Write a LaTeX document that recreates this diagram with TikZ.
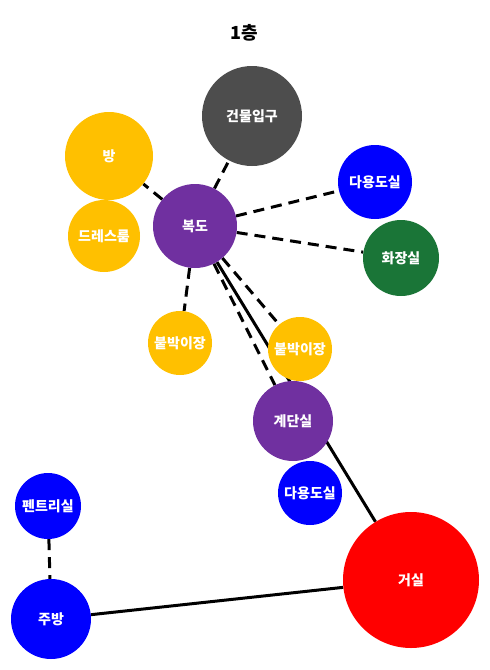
\documentclass[tikz,border=0pt]{standalone}
\usepackage{fontspec}
\setmainfont{Noto Sans CJK KR}
\definecolor{myyellow}{RGB}{255,192,0}
\definecolor{mypurple}{RGB}{112,48,160}
\definecolor{mygray}{RGB}{77,77,77}
\definecolor{myblue}{RGB}{0,0,255}
\definecolor{mygreen}{RGB}{26,117,55}
\definecolor{myred}{RGB}{255,0,0}
\usepackage{tikz}
\usetikzlibrary{backgrounds}

\begin{document}
\begin{tikzpicture}[
  x=1pt,
  y=-1pt,
  myroom/.style={
    circle,
    inner sep=0pt,
    text=white,
    font=\bfseries\fontsize{14}{16}\selectfont
  },
  mydash/.style={
    line width=3pt,
    dash pattern=on 11pt off 7pt
  },
  mysolid/.style={
    line width=3pt
  }
]
\useasboundingbox (0,0) rectangle (490,670);

\node [font=\bfseries\fontsize{18}{20}\selectfont] (title) at (244,33) {1층};

\node [myroom, fill=mygray, minimum size=100pt] (entrance) at (252,116) {건물입구};
\node [myroom, fill=myyellow, minimum size=88pt] (room) at (109,156) {방};
\node [myroom, fill=myyellow, minimum size=72pt] (dress) at (104,236) {드레스룸};
\node [myroom, fill=mypurple, minimum size=84pt] (hall) at (195,226) {복도};
\node [myroom, fill=myblue, minimum size=74pt] (utilA) at (375,182) {다용도실};
\node [myroom, fill=mygreen, minimum size=76pt] (bath) at (401,258) {화장실};
\node [myroom, fill=myyellow, minimum size=64pt] (closetA) at (180,343) {붙박이장};
\node [myroom, fill=myyellow, minimum size=64pt] (closetB) at (300,349) {붙박이장};
\node [myroom, fill=mypurple, minimum size=80pt] (stairs) at (293,421) {계단실};
\node [myroom, fill=myblue, minimum size=64pt] (utilB) at (310,493) {다용도실};
\node [myroom, fill=myblue, minimum size=66pt] (pantry) at (48,506) {펜트리실};
\node [myroom, fill=myblue, minimum size=80pt] (kitchen) at (51,619) {주방};
\node [myroom, fill=myred, minimum size=136pt] (living) at (411,580) {거실};

\begin{pgfonlayer}{background}
\draw [mydash] (hall) -- (entrance);
\draw [mydash] (hall) -- (room);
\draw [mydash] (hall) -- (utilA);
\draw [mydash] (hall) -- (bath);
\draw [mydash] (hall) -- (closetA);
\draw [mydash] (hall) -- (closetB);
\draw [mydash] (hall) -- (stairs);
\draw [mysolid] (hall) -- (living);
\draw [mydash] (pantry) -- (kitchen);
\draw [mysolid] (kitchen) -- (living);
\end{pgfonlayer}

\end{tikzpicture}
\end{document}
